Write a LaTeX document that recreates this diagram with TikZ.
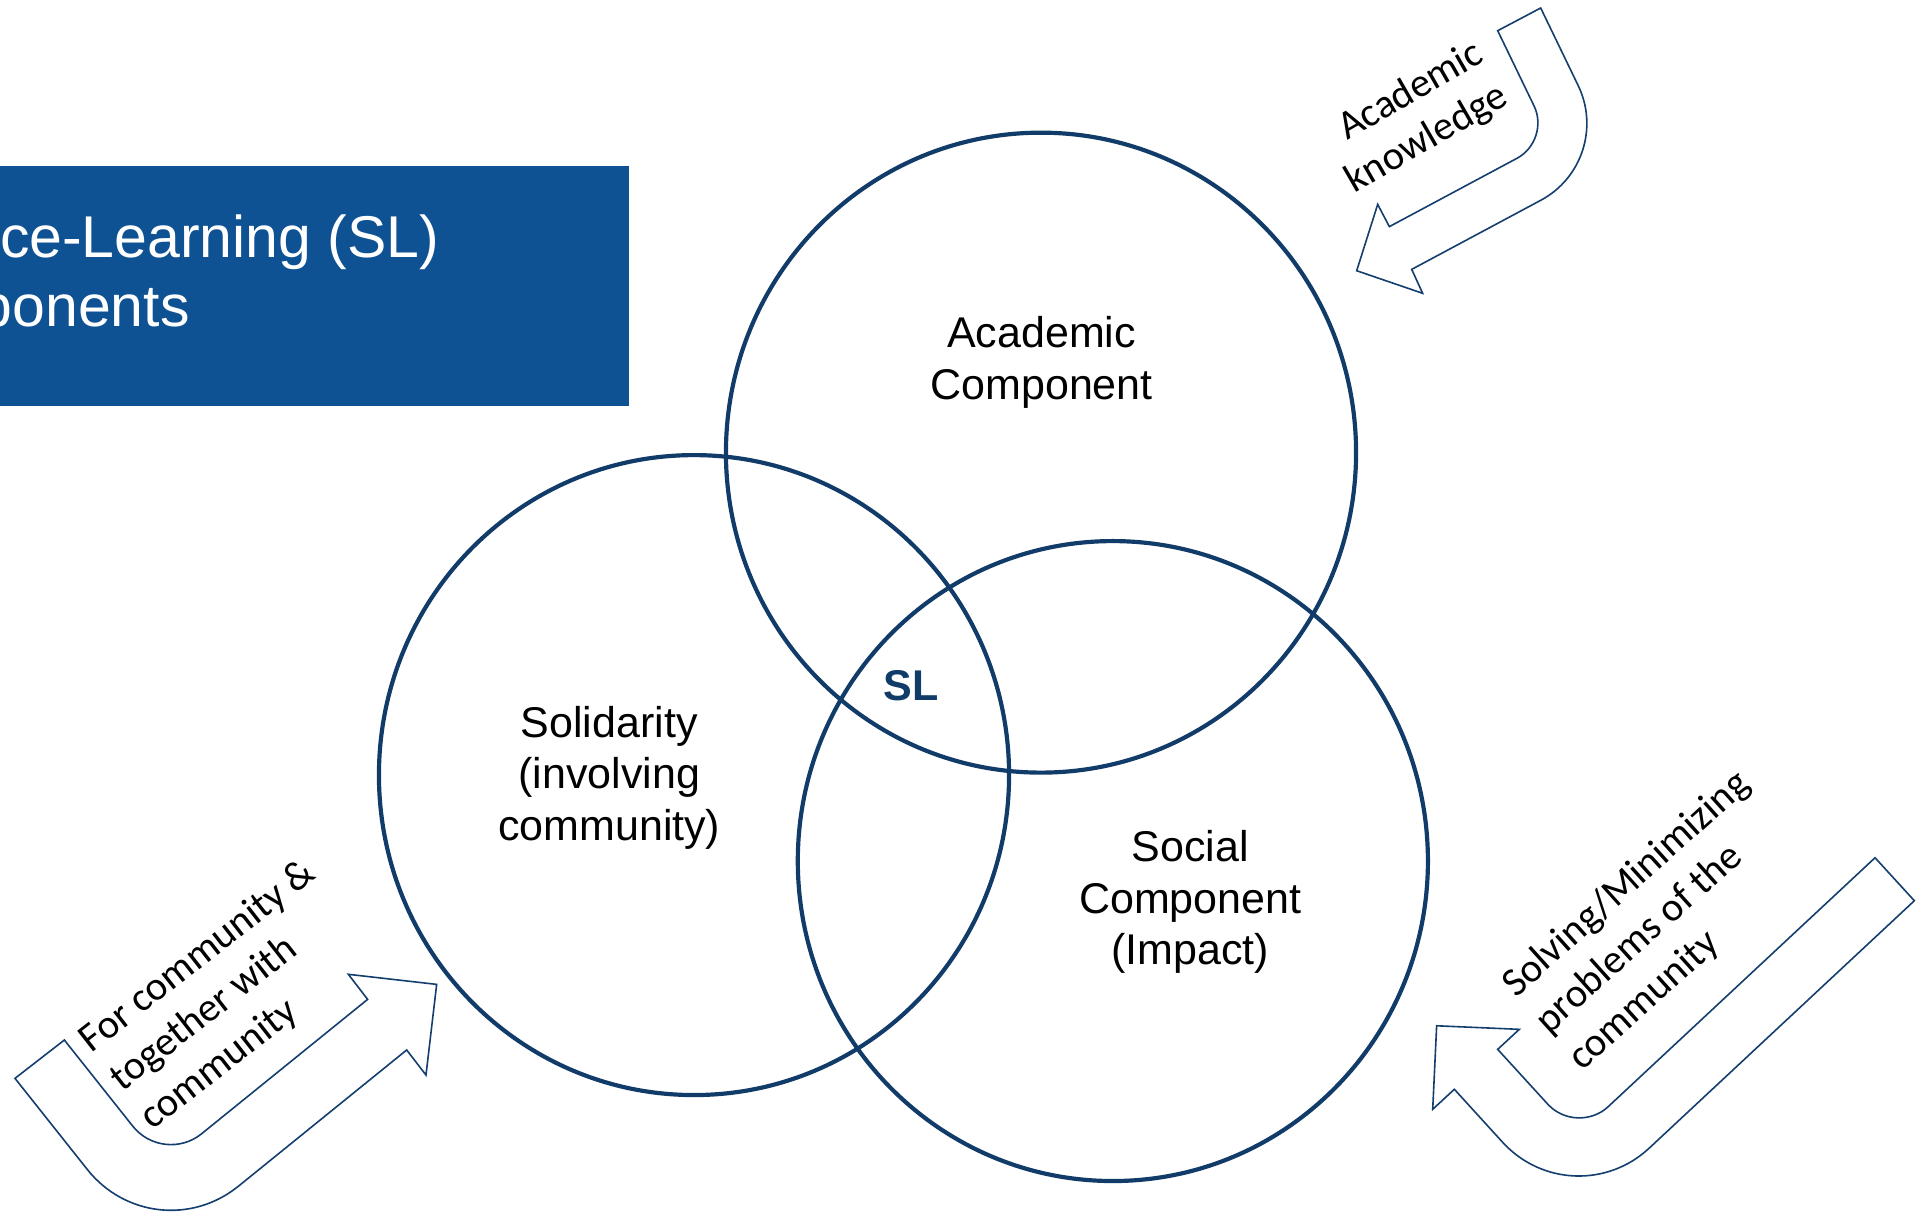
\documentclass[tikz,border=0pt]{standalone}
\usepackage{fontspec}
\setmainfont{Liberation Sans}
\newfontfamily\calib{Carlito}
\usetikzlibrary{calc,shapes.geometric}
\definecolor{navy}{RGB}{17,59,104}
\definecolor{titleblue}{RGB}{15,82,148}
\definecolor{arrowblue}{RGB}{20,62,110}
\begin{document}
\begin{tikzpicture}[x=1pt,y=-1pt,
  venn/.style={ellipse, draw=navy, line width=3.4pt, minimum width=513pt, minimum height=521pt, inner sep=0pt},
  vtext/.style={font=\fontsize{35}{42}\selectfont, align=center, text=black},
  atext/.style={font=\calib\fontsize{33}{40}\selectfont, text=black},
  titletext/.style={anchor=base west, text=white, font=\fontsize{48}{57}\selectfont, inner sep=0pt},
  bentarrow/.style={draw=arrowblue, line width=1.3pt, fill=white, line join=miter}
]
\useasboundingbox (0,0) rectangle (1568,988);
\clip (0,0) rectangle (1568,988);
\fill[white] (0,0) rectangle (1568,988);

% title
\node (titlebox) [fill=titleblue, minimum width=522pt, minimum height=195pt, anchor=north west, inner sep=0pt] at (-10,135) {};
\node (title1) [titletext] at (-109.5,209.5) {Service-Learning (SL)};
\node (title2) [titletext] at (-118,266) {Components};

% circles
\node (acad) [venn] at (847.5,368.5) {};
\node (sol) [venn] at (565,631) {};
\node (soc) [venn] at (906,701) {};

\node (acadtext) [vtext] at (848,295) {Academic\\Component};
\node (soltext) [vtext] at (496,633) {Solidarity\\(involving\\community)};
\node (soctext) [vtext] at (969,734.5) {Social\\Component\\(Impact)};
\node (sl) [text=navy, font=\bfseries\fontsize{35}{42}\selectfont, inner sep=0pt] at (742,558) {SL};

% top-right arrow
\coordinate (ta1) at (1219.3,25.0);
\coordinate (ta2) at (1254.3,6.5);
\coordinate (taIC) at (1262.4,114.2);
\coordinate (taOC) at (1314.4,130.9);
\coordinate (taN1) at (1131.1,184.5);
\coordinate (taB1) at (1121.6,166.4);
\coordinate (taT) at (1104.5,220.4);
\coordinate (taB2) at (1158.2,238.8);
\coordinate (taN2) at (1149.3,219.3);
\draw[bentarrow] (ta2) -- ($(taOC)!68pt!(ta2)$) .. controls ($(taOC)!30pt!(ta2)$) and ($(taOC)!30pt!(taN2)$) .. ($(taOC)!68pt!(taN2)$) -- (taN2) -- (taB2) -- (taT) -- (taB1) -- (taN1) -- ($(taIC)!31pt!(taN1)$) .. controls ($(taIC)!14pt!(taN1)$) and ($(taIC)!14pt!(ta1)$) .. ($(taIC)!31pt!(ta1)$) -- (ta1) -- cycle;

% bottom-left arrow
\coordinate (ba1) at (12.2,877.9);
\coordinate (ba2) at (52.4,846.7);
\coordinate (baIC) at (133.0,948.2);
\coordinate (baOC) at (125.8,1021);
\coordinate (baN1) at (299.3,813.6);
\coordinate (baB1) at (283.6,793.2);
\coordinate (baT) at (355.5,801.4);
\coordinate (baB2) at (346.8,875.2);
\coordinate (baN2) at (331.1,854.8);
\draw[bentarrow] (ba2) -- ($(baIC)!40pt!(ba2)$) .. controls ($(baIC)!18pt!(ba2)$) and ($(baIC)!18pt!(baN1)$) .. ($(baIC)!40pt!(baN1)$) -- (baN1) -- (baB1) -- (baT) -- (baB2) -- (baN2) -- ($(baOC)!88pt!(baN2)$) .. controls ($(baOC)!39pt!(baN2)$) and ($(baOC)!39pt!(ba1)$) .. ($(baOC)!88pt!(ba1)$) -- (ba1) -- cycle;

% bottom-right arrow
\coordinate (ra1) at (1526.5,698.3);
\coordinate (ra2) at (1558.5,733.3);
\coordinate (raIC) at (1283.7,924.8);
\coordinate (raOC) at (1280.5,992.7);
\coordinate (raN1) at (1219.3,854.3);
\coordinate (raB1) at (1236.9,838);
\coordinate (raT) at (1169.6,835.1);
\coordinate (raB2) at (1166.4,903.1);
\coordinate (raN2) at (1184,886.8);
\draw[bentarrow] (ra1) -- ($(raIC)!35pt!(ra1)$) .. controls ($(raIC)!16pt!(ra1)$) and ($(raIC)!16pt!(raN1)$) .. ($(raIC)!35pt!(raN1)$) -- (raN1) -- (raB1) -- (raT) -- (raB2) -- (raN2) -- ($(raOC)!85pt!(raN2)$) .. controls ($(raOC)!38pt!(raN2)$) and ($(raOC)!38pt!(ra2)$) .. ($(raOC)!85pt!(ra2)$) -- (ra2) -- cycle;

\node (tatext) [atext, rotate=30, align=right] at (1152,96) {Academic\\knowledge};
\node (batext) [atext, rotate=38, align=left] at (186,810.5) {For community \&\\together with\\community};
\node (ratext) [atext, rotate=42, align=left] at (1351,750) {Solving/Minimizing\\problems of the\\community};
\end{tikzpicture}
\end{document}
